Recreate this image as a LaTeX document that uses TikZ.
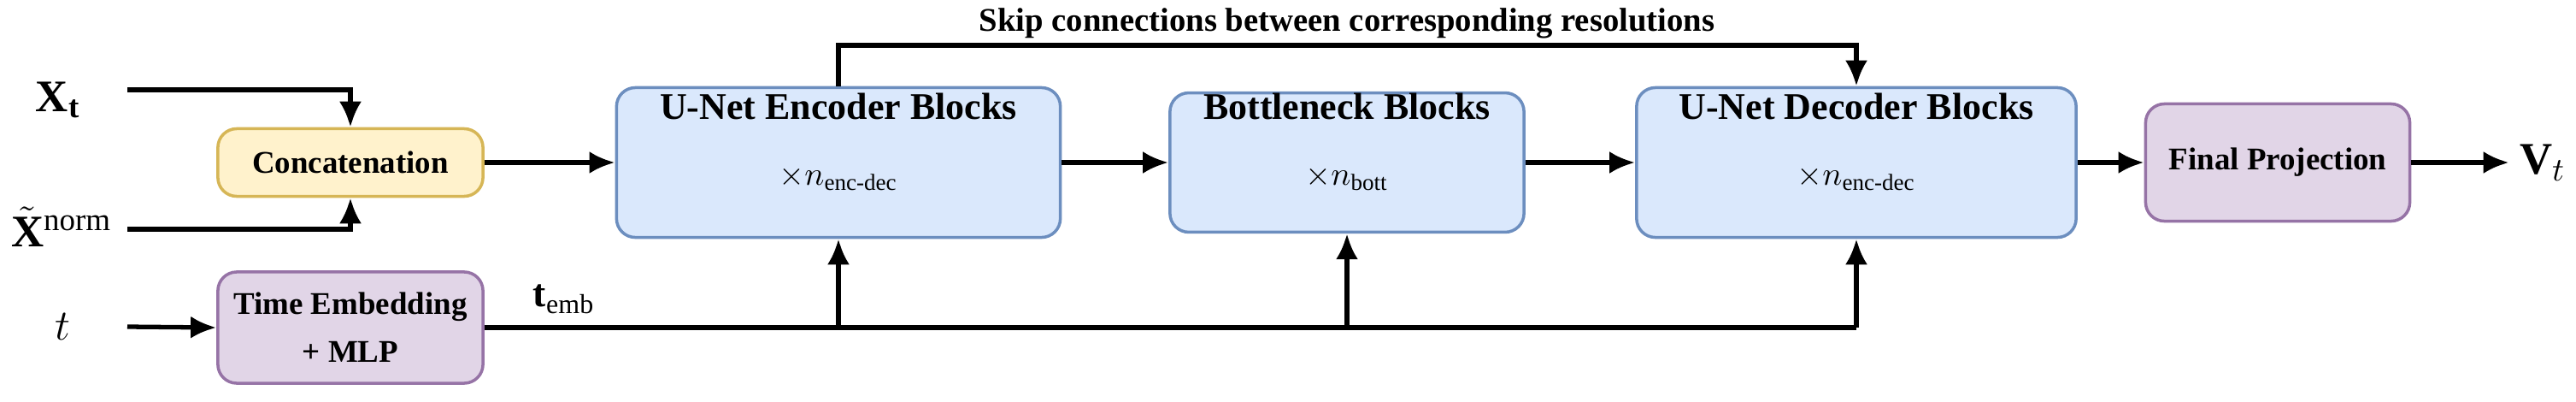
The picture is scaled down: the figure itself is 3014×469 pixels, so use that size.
\documentclass[tikz,border=0pt]{standalone}
\usepackage{amsmath}
\usepackage{bm}
\usepackage{fontspec}
\setmainfont{Liberation Serif}
\usetikzlibrary{arrows.meta}

\definecolor{yfill}{HTML}{FFF2CC}
\definecolor{ydraw}{HTML}{D6B656}
\definecolor{bfill}{HTML}{DAE8FC}
\definecolor{bdraw}{HTML}{6C8EBF}
\definecolor{pfill}{HTML}{E1D5E7}
\definecolor{pdraw}{HTML}{9673A6}

\tikzset{
  block/.style={draw, line width=1pt, rounded corners=0.22cm, align=center,
    inner sep=0pt, font=\bfseries\fontsize{10.5}{13}\selectfont},
  yblock/.style={block, fill=yfill, draw=ydraw},
  bblock/.style={block, fill=bfill, draw=bdraw, font=\bfseries\fontsize{12.5}{15}\selectfont},
  pblock/.style={block, fill=pfill, draw=pdraw},
  flow/.style={line width=1.5pt, -{Latex[length=0.3cm,width=0.26cm]}},
  lbl/.style={font=\fontsize{15}{18}\selectfont},
}

\begin{document}
\begin{tikzpicture}[x=0.01cm, y=-0.01cm]
\useasboundingbox (0,0) rectangle (3014,469);

% Blocks
\node[yblock, minimum width=3.1cm, minimum height=0.79cm] (concat) at (410,190) {Concatenation};
\node[pblock, minimum width=3.1cm, minimum height=1.3cm] (temb) at (410,383) {Time Embedding\\[3pt] + MLP};
\node[bblock, minimum width=5.19cm, minimum height=1.75cm, text depth=0.55cm] (enc) at (981,190) {U-Net Encoder Blocks\\[7pt] {\normalfont\fontsize{11}{13}\selectfont$\times n_{\text{enc-dec}}$}};
\node[bblock, minimum width=4.14cm, minimum height=1.48cm, text depth=0.55cm] (bott) at (1576,190) {Bottleneck Blocks\\[7pt] {\normalfont\fontsize{11}{13}\selectfont$\times n_{\text{bott}}$}};
\node[bblock, minimum width=5.14cm, minimum height=1.75cm, text depth=0.55cm] (dec) at (2172,190) {U-Net Decoder Blocks\\[7pt] {\normalfont\fontsize{11}{13}\selectfont$\times n_{\text{enc-dec}}$}};
\node[pblock, minimum width=3.09cm, minimum height=1.37cm] (proj) at (2665,190) {Final Projection};

% Inputs and output
\node[lbl] (xt) at (68,117) {$\mathbf{X_t}$};
\node[lbl] (xn) at (72,265) {$\tilde{\mathbf{X}}^{\text{norm}}$};
\node[lbl] (t) at (73,382) {$t$};
\node[lbl] (vt) at (2975,190) {$\mathbf{V}_t$};
\node[font=\fontsize{13}{16}\selectfont] (tembl) at (660,350) {$\mathbf{t}_{\text{emb}}$};

\coordinate (xtend) at (149,105);
\coordinate (xnend) at (149,268);
\coordinate (tend) at (149,382);
\coordinate (skipy) at (0,53);

% Connectors
\draw[flow] (xtend) -| (concat.north);
\draw[flow] (xnend) -| (concat.south);
\draw[flow] (tend) -- (temb.west);
\draw[flow] (concat.east) -- (enc.west);
\draw[flow] (enc.east) -- (bott.west);
\draw[flow] (bott.east) -- (dec.west);
\draw[flow] (dec.east) -- (proj.west);
\draw[flow] (proj.east) -- (vt.west);
\draw[flow] (enc.north) |- (skipy -| dec.north) -- (dec.north);
\node[font=\bfseries\fontsize{11}{13}\selectfont] (skipl) at (1576,27) {Skip connections between corresponding resolutions};

% Time embedding to all blocks
\draw[line width=1.5pt] (temb.east) -- (temb.east -| dec.south);
\draw[flow] (temb.east -| enc.south) -- (enc.south);
\draw[flow] (temb.east -| bott.south) -- (bott.south);
\draw[flow] (temb.east -| dec.south) -- (dec.south);

\end{tikzpicture}
\end{document}
